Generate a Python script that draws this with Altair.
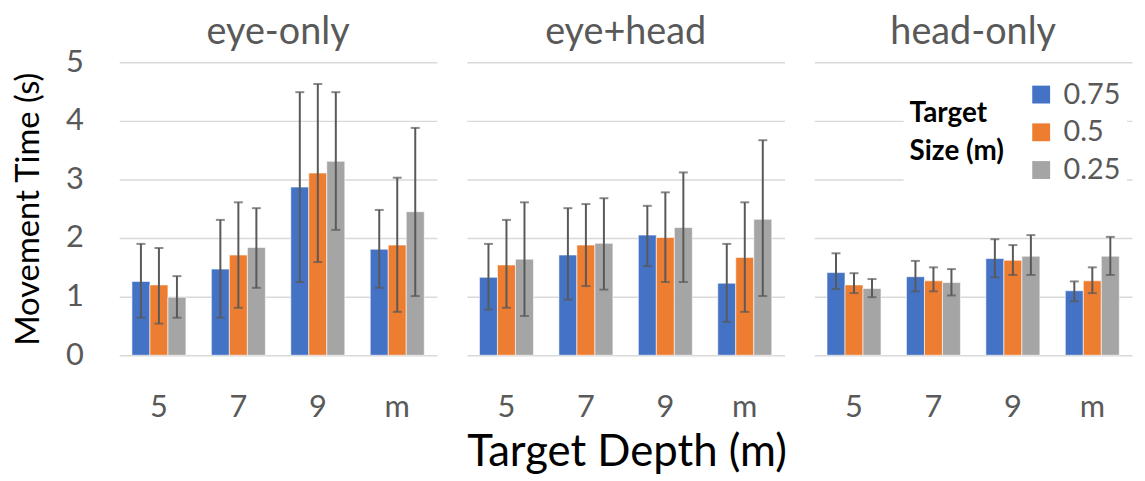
import altair as alt
import pandas as pd

panels = ["eye-only", "eye+head", "head-only"]
depths = ["5", "7", "9", "m"]
sizes = ["0.75", "0.5", "0.25"]

# mean values [panel][depth][size]
means = [
    [[1.26, 1.20, 0.99], [1.47, 1.71, 1.84], [2.87, 3.11, 3.31], [1.81, 1.88, 2.45]],
    [[1.33, 1.54, 1.64], [1.71, 1.88, 1.91], [2.05, 2.01, 2.18], [1.23, 1.67, 2.32]],
    [[1.41, 1.20, 1.14], [1.34, 1.27, 1.24], [1.65, 1.62, 1.69], [1.10, 1.27, 1.69]],
]
err_hi = [
    [[1.90, 1.83, 1.35], [2.31, 2.61, 2.51], [4.49, 4.63, 4.49], [2.48, 3.03, 3.88]],
    [[1.90, 2.31, 2.61], [2.51, 2.58, 2.68], [2.55, 2.78, 3.12], [1.90, 2.61, 3.67]],
    [[1.74, 1.40, 1.30], [1.61, 1.50, 1.47], [1.98, 1.88, 2.05], [1.26, 1.50, 2.02]],
]
err_lo = [
    [[0.64, 0.54, 0.64], [0.64, 0.81, 1.15], [1.25, 1.59, 2.14], [1.15, 0.74, 1.01]],
    [[0.78, 0.81, 0.67], [0.95, 1.18, 1.12], [1.52, 1.25, 1.25], [0.57, 0.74, 1.01]],
    [[1.13, 1.06, 0.99], [1.09, 1.09, 1.02], [1.33, 1.37, 1.37], [0.92, 1.06, 1.37]],
]

rows = []
for pi, p in enumerate(panels):
    for di, d in enumerate(depths):
        for si, s in enumerate(sizes):
            rows.append({
                "panel": p, "depth": d, "size": s,
                "mean": means[pi][di][si],
                "hi": err_hi[pi][di][si],
                "lo": err_lo[pi][di][si],
            })
df = pd.DataFrame(rows)

FONT = "Lato"
GRAY_TXT = "#595959"
colors = ["#4472C4", "#ED7D31", "#A5A5A5"]

x_enc = alt.X("depth:N", sort=depths, title=None,
              scale=alt.Scale(paddingInner=0.32, paddingOuter=0.16),
              axis=alt.Axis(labelAngle=0, labelFontSize=31, labelColor=GRAY_TXT,
                            labelFont=FONT, ticks=False, domain=False, labelPadding=37))
xoff = alt.XOffset("size:N", sort=sizes, scale=alt.Scale(paddingInner=0, paddingOuter=0))
y_scale = alt.Scale(domain=[0, 5], nice=False)

bars = alt.Chart().mark_bar(stroke="white", strokeWidth=0.6).encode(
    x=x_enc,
    xOffset=xoff,
    y=alt.Y("mean:Q", scale=y_scale, title="Movement  Time (s)",
            axis=alt.Axis(values=[0, 1, 2, 3, 4, 5], format="d", labelFontSize=31,
                          labelColor=GRAY_TXT, labelFont=FONT, titleFont=FONT,
                          titleFontSize=33, titleFontWeight="normal", titleColor="black",
                          ticks=False, domain=False, labelPadding=36, titlePadding=20,
                          grid=True, gridColor="#D9D9D9", gridWidth=1.5)),
    color=alt.Color("size:N", sort=sizes, scale=alt.Scale(domain=sizes, range=colors),
                    legend=alt.Legend(
                        title=["Target", "Size (m)"], orient="none",
                        legendX=790, legendY=12,
                        titleOrient="left", titleAnchor="middle",
                        titleFont=FONT, titleFontSize=28, titleFontWeight="bold",
                        titleColor="black", titleLineHeight=38, titlePadding=22,
                        labelFont=FONT, labelFontSize=29, labelColor=GRAY_TXT,
                        symbolType="square", symbolSize=324, symbolStrokeWidth=0,
                        symbolOpacity=1, rowPadding=8, labelOffset=8,
                        fillColor="white", padding=6)),
)

rules = alt.Chart().mark_rule(color="#595959", strokeWidth=2).encode(
    x=alt.X("depth:N", sort=depths),
    xOffset=xoff,
    y=alt.Y("lo:Q", scale=y_scale),
    y2="hi:Q",
)

caps_hi = alt.Chart().mark_tick(color="#595959", thickness=2, size=9).encode(
    x=alt.X("depth:N", sort=depths),
    xOffset=xoff,
    y=alt.Y("hi:Q", scale=y_scale),
)
caps_lo = alt.Chart().mark_tick(color="#595959", thickness=2, size=9).encode(
    x=alt.X("depth:N", sort=depths),
    xOffset=xoff,
    y=alt.Y("lo:Q", scale=y_scale),
)

layer = alt.layer(bars, rules, caps_hi, caps_lo, data=df).properties(width=320, height=295)

chart = layer.facet(
    column=alt.Column("panel:N", sort=panels, title=None,
                      header=alt.Header(labelFontSize=38, labelColor=GRAY_TXT, labelFont=FONT,
                                        labelPadding=10)),
    spacing=30,
).properties(
    title=alt.TitleParams("Target Depth (m)", orient="bottom", anchor="middle",
                          fontSize=44, font=FONT, fontWeight="normal", color="black",
                          dx=55, offset=9)
).configure_view(stroke=None).configure_axis(labelFont=FONT)

chart.save("out.html", embed_options={"renderer": "svg", "actions": False})
